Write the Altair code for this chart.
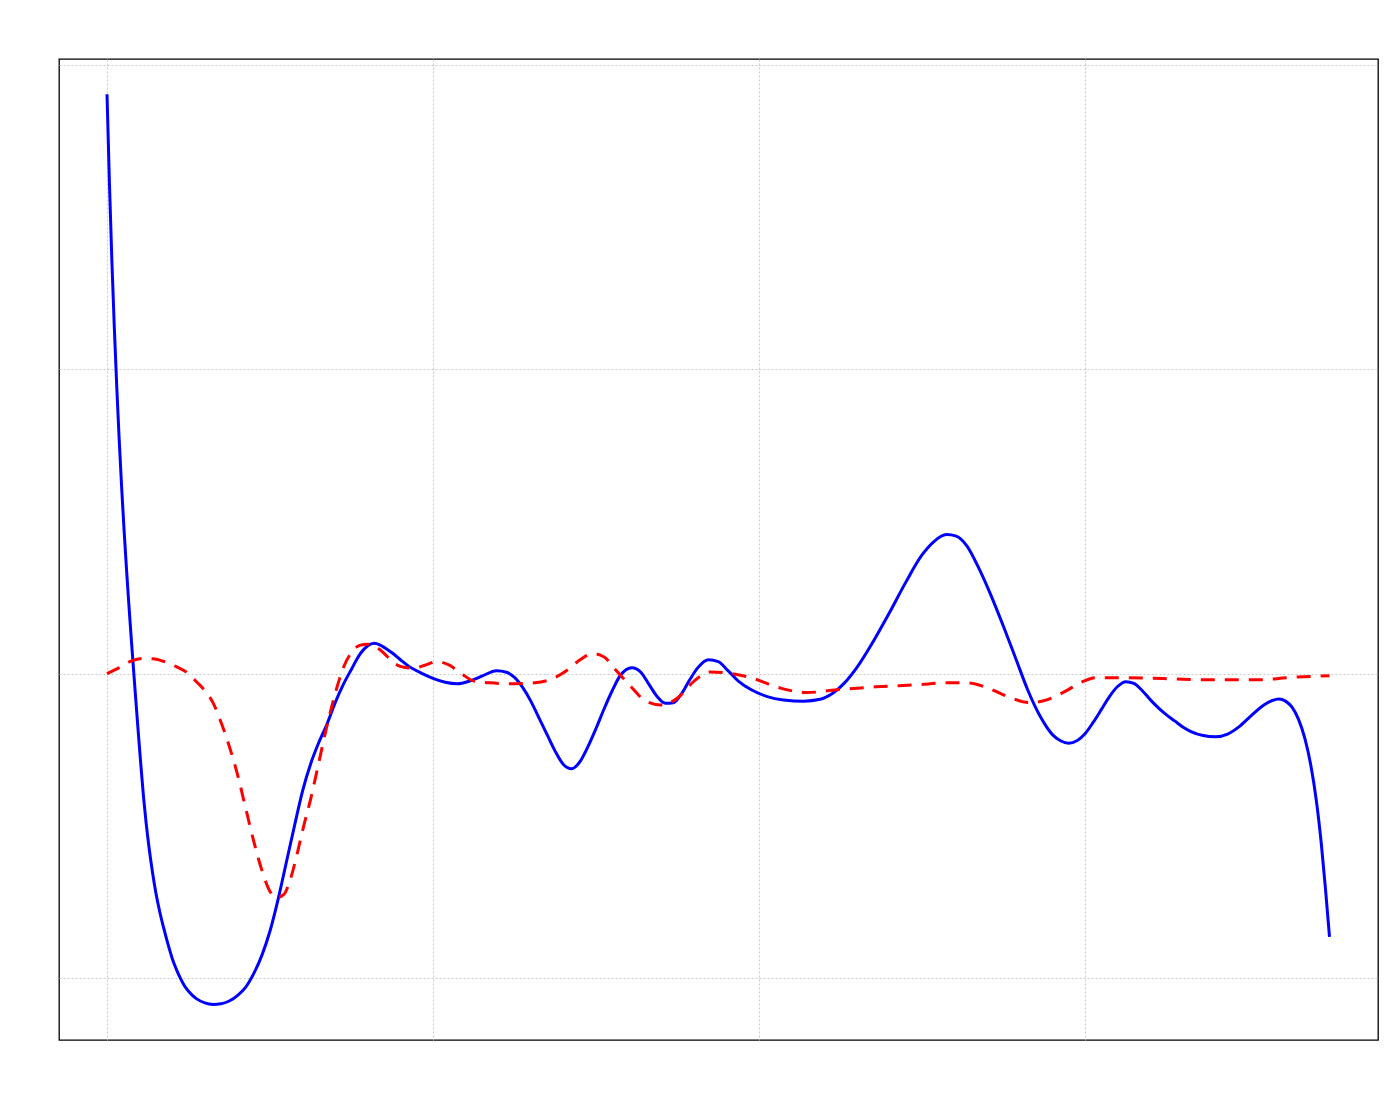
import altair as alt
import pandas as pd

# Blue solid series
blue_x = [0.0, 0.03, 0.06, 0.09, 0.12, 0.15, 0.18, 0.21, 0.24, 0.27, 0.30, 0.33, 0.36, 0.39,
          0.42, 0.45, 0.48, 0.52, 0.56, 0.60, 0.65, 0.70, 0.75, 0.80, 0.85, 0.90, 0.95, 1.0,
          1.1, 1.2, 1.3, 1.4, 1.5, 1.6, 1.7, 1.8, 1.9, 2.0, 2.1, 2.2, 2.3, 2.4, 2.5, 2.6,
          2.7, 2.8, 2.9, 3.0, 3.1, 3.2, 3.28, 3.38, 3.5, 3.6, 3.7, 3.85, 4.0, 4.15, 4.3,
          4.45, 4.6, 4.78, 4.9, 5.0, 5.1, 5.2, 5.3, 5.4, 5.5, 5.6, 5.7, 5.8, 5.9, 6.0,
          6.1, 6.2, 6.3, 6.44, 6.55, 6.65, 6.75, 6.85, 6.95, 7.05, 7.15, 7.25, 7.38, 7.5,
          7.62, 7.75, 7.9, 8.1, 8.3, 8.55, 8.75, 8.9, 9.05, 9.2, 9.4, 9.6, 9.8, 10.0,
          10.15, 10.3, 10.42, 10.55, 10.7, 10.85, 11.0, 11.15, 11.3, 11.45, 11.6, 11.7,
          11.8, 11.9, 12.0, 12.1, 12.2, 12.3, 12.4, 12.5, 12.6, 12.7, 12.8, 12.9, 13.0,
          13.1, 13.2, 13.3, 13.45, 13.6, 13.75, 13.9, 14.05, 14.2, 14.3, 14.38, 14.46,
          14.54, 14.62, 14.7, 14.77, 14.84, 14.9, 14.95, 15.0]
blue_y = [1.903, 1.609, 1.354, 1.135, 0.940, 0.766, 0.610, 0.469, 0.340, 0.220, 0.106, -0.002,
          -0.110, -0.215, -0.315, -0.410, -0.490, -0.580, -0.655, -0.720, -0.785, -0.840, -0.890,
          -0.935, -0.970, -1.000, -1.025, -1.043, -1.068, -1.081, -1.086, -1.084, -1.075, -1.057,
          -1.030, -0.985, -0.925, -0.845, -0.740, -0.620, -0.500, -0.385, -0.295, -0.225,
          -0.165, -0.095, -0.035, 0.015, 0.063, 0.092, 0.100, 0.090, 0.068, 0.046, 0.025,
          0.003, -0.015, -0.028, -0.033, -0.024, -0.008, 0.010, 0.005, -0.012, -0.045,
          -0.090, -0.145, -0.200, -0.255, -0.298, -0.312, -0.290, -0.240, -0.180,
          -0.115, -0.055, -0.005, 0.020, 0.005, -0.035, -0.075, -0.097, -0.095, -0.065,
          -0.020, 0.020, 0.046, 0.040, 0.010, -0.025, -0.052, -0.075, -0.086, -0.090,
          -0.084, -0.065, -0.030, 0.020, 0.105, 0.200, 0.300, 0.390, 0.435, 0.457, 0.452,
          0.420, 0.345, 0.255, 0.155, 0.050, -0.055, -0.140, -0.200, -0.220, -0.228,
          -0.220, -0.197, -0.160, -0.118, -0.075, -0.042, -0.026, -0.032, -0.055, -0.085,
          -0.112, -0.135, -0.155, -0.175, -0.190, -0.203, -0.207, -0.198, -0.172, -0.135,
          -0.102, -0.088, -0.083, -0.090, -0.110, -0.150, -0.215, -0.300, -0.420, -0.560,
          -0.705, -0.864]

# Red dashed series
red_x = [0.0, 0.15, 0.31, 0.45, 0.56, 0.7, 0.85, 1.0, 1.1, 1.2, 1.3, 1.4, 1.5, 1.6, 1.7,
         1.8, 1.9, 2.0, 2.08, 2.17, 2.25, 2.33, 2.4, 2.5, 2.6, 2.7, 2.8, 2.9, 3.0, 3.1,
         3.2, 3.3, 3.4, 3.5, 3.6, 3.75, 3.9, 4.05, 4.2, 4.35, 4.5, 4.7, 5.0, 5.25, 5.45,
         5.65, 5.8, 5.96, 6.1, 6.25, 6.42, 6.6, 6.8, 7.0, 7.2, 7.4, 7.6, 7.9, 8.25, 8.58,
         8.95, 9.43, 9.95, 10.3, 10.55, 10.8, 11.06, 11.32, 11.54, 11.75, 11.97, 12.14,
         12.45, 12.96, 13.61, 14.17, 14.47, 15.0]
red_y = [0.0, 0.020, 0.043, 0.050, 0.049, 0.040, 0.023, 0.000, -0.027, -0.055, -0.095, -0.160,
         -0.238, -0.330, -0.440, -0.550, -0.645, -0.715, -0.736, -0.725, -0.675, -0.595, -0.515,
         -0.410, -0.290, -0.170, -0.065, 0.020, 0.070, 0.093, 0.097, 0.088, 0.067, 0.040, 0.024,
         0.018, 0.028, 0.040, 0.028, 0.000, -0.024, -0.030, -0.033, -0.030, -0.018,
         0.012, 0.045, 0.066, 0.055, 0.010, -0.040, -0.088, -0.103, -0.080, -0.025, 0.006,
         0.003, -0.013, -0.046, -0.062, -0.053, -0.043, -0.036, -0.030, -0.030, -0.046,
         -0.076, -0.095, -0.085, -0.059, -0.026, -0.013, -0.013, -0.016, -0.020, -0.020,
         -0.013, -0.007]

x_grid = [0, 4, 8, 12]
y_grid = [-1, 0, 1, 2]

blue = pd.DataFrame({"x": blue_x, "y": blue_y})
red = pd.DataFrame({"x": red_x, "y": red_y})

xscale = alt.Scale(domain=[-0.589, 15.595], nice=False, zero=False)
yscale = alt.Scale(domain=[-1.203, 2.019], nice=False, zero=False)

xaxis = alt.Axis(values=x_grid, labels=False, ticks=False, domain=False, title=None,
                 grid=True, gridColor="#c8c8c8", gridDash=[2, 2], gridWidth=1)
yaxis = alt.Axis(values=y_grid, labels=False, ticks=False, domain=False, title=None,
                 grid=True, gridColor="#c8c8c8", gridDash=[2, 2], gridWidth=1)

blue_line = alt.Chart(blue).mark_line(color="#0000ff", strokeWidth=3, interpolate="monotone").encode(
    x=alt.X("x:Q", scale=xscale, axis=xaxis),
    y=alt.Y("y:Q", scale=yscale, axis=yaxis),
)

red_line = alt.Chart(red).mark_line(color="#ff0000", strokeWidth=3, strokeDash=[14, 10],
                                    interpolate="monotone").encode(
    x=alt.X("x:Q", scale=xscale, axis=xaxis),
    y=alt.Y("y:Q", scale=yscale, axis=yaxis),
)

chart = alt.layer(blue_line, red_line).properties(
    width=1319, height=981,
    autosize=alt.AutoSizeParams(type="none"),
    padding={"left": 51, "top": 51, "right": 10, "bottom": 10},
).configure(
    background="white",
    view=alt.ViewConfig(stroke="black", strokeWidth=1.3),
)

chart.save("out.html", embed_options={"renderer": "svg", "actions": False})
